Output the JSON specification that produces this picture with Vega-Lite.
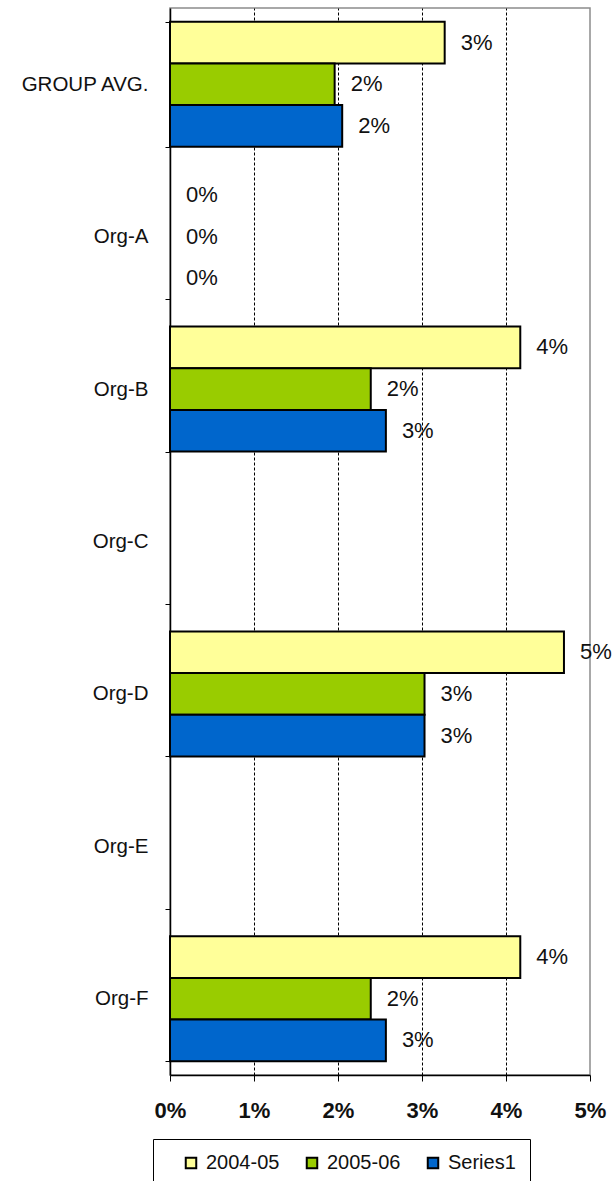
{
  "$schema": "https://vega.github.io/schema/vega-lite/v6.json",
  "width": 420,
  "height": 1067,
  "autosize": "none",
  "padding": {"left": 170, "top": 8, "right": 23, "bottom": 106},
  "background": "white",
  "config": {
    "font": "Liberation Sans",
    "view": {"stroke": "#8c8c8c", "strokeWidth": 1.5}
  },
  "data": {
    "values": [
      {"org": "GROUP AVG.", "series": "2004-05", "value": 0.0327},
      {"org": "GROUP AVG.", "series": "2005-06", "value": 0.0196},
      {"org": "GROUP AVG.", "series": "Series1", "value": 0.0205},
      {"org": "Org-A", "series": "2004-05", "value": 0},
      {"org": "Org-A", "series": "2005-06", "value": 0},
      {"org": "Org-A", "series": "Series1", "value": 0},
      {"org": "Org-B", "series": "2004-05", "value": 0.0417},
      {"org": "Org-B", "series": "2005-06", "value": 0.0239},
      {"org": "Org-B", "series": "Series1", "value": 0.0257},
      {"org": "Org-C", "series": "2004-05", "value": null},
      {"org": "Org-C", "series": "2005-06", "value": null},
      {"org": "Org-C", "series": "Series1", "value": null},
      {"org": "Org-D", "series": "2004-05", "value": 0.0469},
      {"org": "Org-D", "series": "2005-06", "value": 0.0303},
      {"org": "Org-D", "series": "Series1", "value": 0.0303},
      {"org": "Org-E", "series": "2004-05", "value": null},
      {"org": "Org-E", "series": "2005-06", "value": null},
      {"org": "Org-E", "series": "Series1", "value": null},
      {"org": "Org-F", "series": "2004-05", "value": 0.0417},
      {"org": "Org-F", "series": "2005-06", "value": 0.0239},
      {"org": "Org-F", "series": "Series1", "value": 0.0257}
    ]
  },
  "encoding": {
    "y": {
      "field": "org",
      "type": "nominal",
      "sort": null,
      "title": null,
      "scale": {
        "domain": ["GROUP AVG.", "Org-A", "Org-B", "Org-C", "Org-D", "Org-E", "Org-F"],
        "paddingInner": 0.18,
        "paddingOuter": 0.09
      },
      "axis": {
        "tickBand": "extent",
        "tickSize": 5,
        "tickColor": "black",
        "domainColor": "black",
        "domainWidth": 1.5,
        "labelFontSize": 20.5,
        "labelColor": "#111",
        "labelPadding": 17,
        "labelLimit": 200
      }
    },
    "yOffset": {
      "field": "series",
      "type": "nominal",
      "sort": ["2004-05", "2005-06", "Series1"],
      "scale": {"paddingInner": 0, "paddingOuter": 0}
    },
    "x": {
      "field": "value",
      "type": "quantitative",
      "title": null,
      "scale": {"domain": [0, 0.05], "nice": false},
      "axis": {
        "values": [0, 0.01, 0.02, 0.03, 0.04, 0.05],
        "format": ".0%",
        "tickSize": 6,
        "tickColor": "black",
        "domainColor": "black",
        "domainWidth": 1.5,
        "labelFontSize": 22,
        "labelFontWeight": "bold",
        "labelColor": "#111",
        "labelPadding": 19,
        "labelFlush": false,
        "grid": true,
        "gridColor": "black",
        "gridDash": [3, 2],
        "gridWidth": 1,
        "gridOpacity": {"condition": {"test": "datum.value >= 0.05 || datum.value <= 0", "value": 0}, "value": 1}
      }
    }
  },
  "layer": [
    {
      "mark": {"type": "bar", "stroke": "black", "strokeWidth": 2},
      "encoding": {
        "strokeOpacity": {"condition": {"test": "datum.value == 0", "value": 0}, "value": 1},
        "color": {
          "field": "series",
          "type": "nominal",
          "scale": {"domain": ["2004-05", "2005-06", "Series1"], "range": ["#FFFF99", "#99CC00", "#0066CC"]},
          "legend": {
            "title": null,
            "orient": "none",
            "direction": "horizontal",
            "legendX": -17,
            "legendY": 1131,
            "fillColor": "white",
            "strokeColor": "black",
            "padding": 14,
            "symbolType": "square",
            "symbolSize": 110,
            "symbolStrokeColor": "black",
            "symbolStrokeWidth": 2,
            "symbolOffset": 14,
            "labelFontSize": 20,
            "labelColor": "#111",
            "labelOffset": 5,
            "columnPadding": 8
          }
        }
      }
    },
    {
      "mark": {"type": "text", "align": "left", "baseline": "middle", "dx": 16, "fontSize": 22, "color": "#111"},
      "encoding": {
        "text": {"field": "value", "type": "quantitative", "format": ".0%"}
      }
    }
  ]
}
